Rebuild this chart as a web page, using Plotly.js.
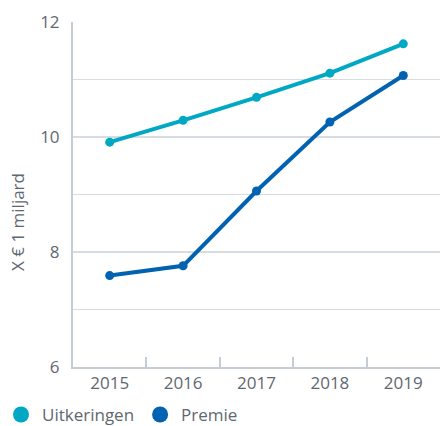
<!DOCTYPE html>
<html>
<head>
<meta charset="utf-8">
<script src="https://cdn.plot.ly/plotly-3.0.1.min.js"></script>
<style>html,body{margin:0;padding:0;background:#fff;}#chart{width:442px;height:426px;}</style>
</head>
<body>
<div id="chart"></div>
<script>
var years = ['2015', '2016', '2017', '2018', '2019'];
var uitkeringen = [9.91, 10.29, 10.69, 11.11, 11.62];
var premie = [7.59, 7.76, 9.06, 10.26, 11.07];
var seriesNames = ['Uitkeringen', 'Premie'];
var yTicks = [6, 8, 10, 12];
var gridTicks = [7, 8, 9, 10, 11];

var colTeal = '#00a8c4';
var colBlue = '#0062b1';
var txt = '#5f6770';
var font = 'Open Sans, sans-serif';

function lineTrace(y, color, name) {
  return {
    x: years, y: y, name: name, type: 'scatter', mode: 'lines+markers',
    line: {color: color, width: 4}, marker: {color: color, size: 9},
    showlegend: false, hoverinfo: 'skip'
  };
}
function legendTrace(color, name) {
  return {
    x: [null], y: [null], name: name, type: 'scatter', mode: 'markers',
    marker: {color: color, size: 16}, showlegend: true
  };
}

var data = [
  {x: [years[0]], y: [null], yaxis: 'y2', type: 'scatter', mode: 'lines', showlegend: false, hoverinfo: 'skip'},
  lineTrace(uitkeringen, colTeal, seriesNames[0]),
  lineTrace(premie, colBlue, seriesNames[1]),
  legendTrace(colTeal, seriesNames[0]),
  legendTrace(colBlue, seriesNames[1])
];

var layout = {
  width: 442, height: 426,
  margin: {l: 73, r: 2, t: 22, b: 59, autoexpand: false},
  paper_bgcolor: '#fff', plot_bgcolor: 'rgba(0,0,0,0)',
  font: {family: font, size: 17, color: txt},
  showlegend: true,
  legend: {orientation: 'h', xref: 'container', yref: 'container',
           x: 0, xanchor: 'left', y: 0.026, yanchor: 'middle', itemwidth: 32,
           font: {family: font, size: 17, color: txt}, tracegroupgap: 0},
  xaxis: {
    type: 'category', range: [-0.5, 4.5], tickson: 'boundaries',
    ticks: 'inside', ticklen: 10, tickwidth: 2, tickcolor: '#c5ccd3',
    showline: true, linecolor: '#c5ccd3', linewidth: 2,
    showgrid: false, zeroline: false, fixedrange: true,
    tickfont: {family: font, size: 17, color: txt}
  },
  yaxis: {
    range: [6, 12], tickvals: yTicks, ticktext: yTicks.map(String),
    showgrid: false, zeroline: false, showline: true, linecolor: '#c5ccd3', linewidth: 2,
    ticks: '', ticklabelstandoff: 8,
    tickfont: {family: font, size: 17, color: txt}, fixedrange: true
  },
  yaxis2: {
    overlaying: 'y', range: [6, 12], tickvals: gridTicks, showticklabels: false,
    showgrid: true, gridcolor: '#d6dce2', gridwidth: 1.5, zeroline: false, showline: false, fixedrange: true
  },
  annotations: [{
    text: 'X € 1 miljard', textangle: -90, xref: 'paper', yref: 'paper',
    x: -0.153, y: 0.42, xanchor: 'center', yanchor: 'middle', showarrow: false,
    font: {family: font, size: 17, color: txt}
  }]
};

Plotly.newPlot('chart', data, layout, {displayModeBar: false, staticPlot: true});
</script>
</body>
</html>
